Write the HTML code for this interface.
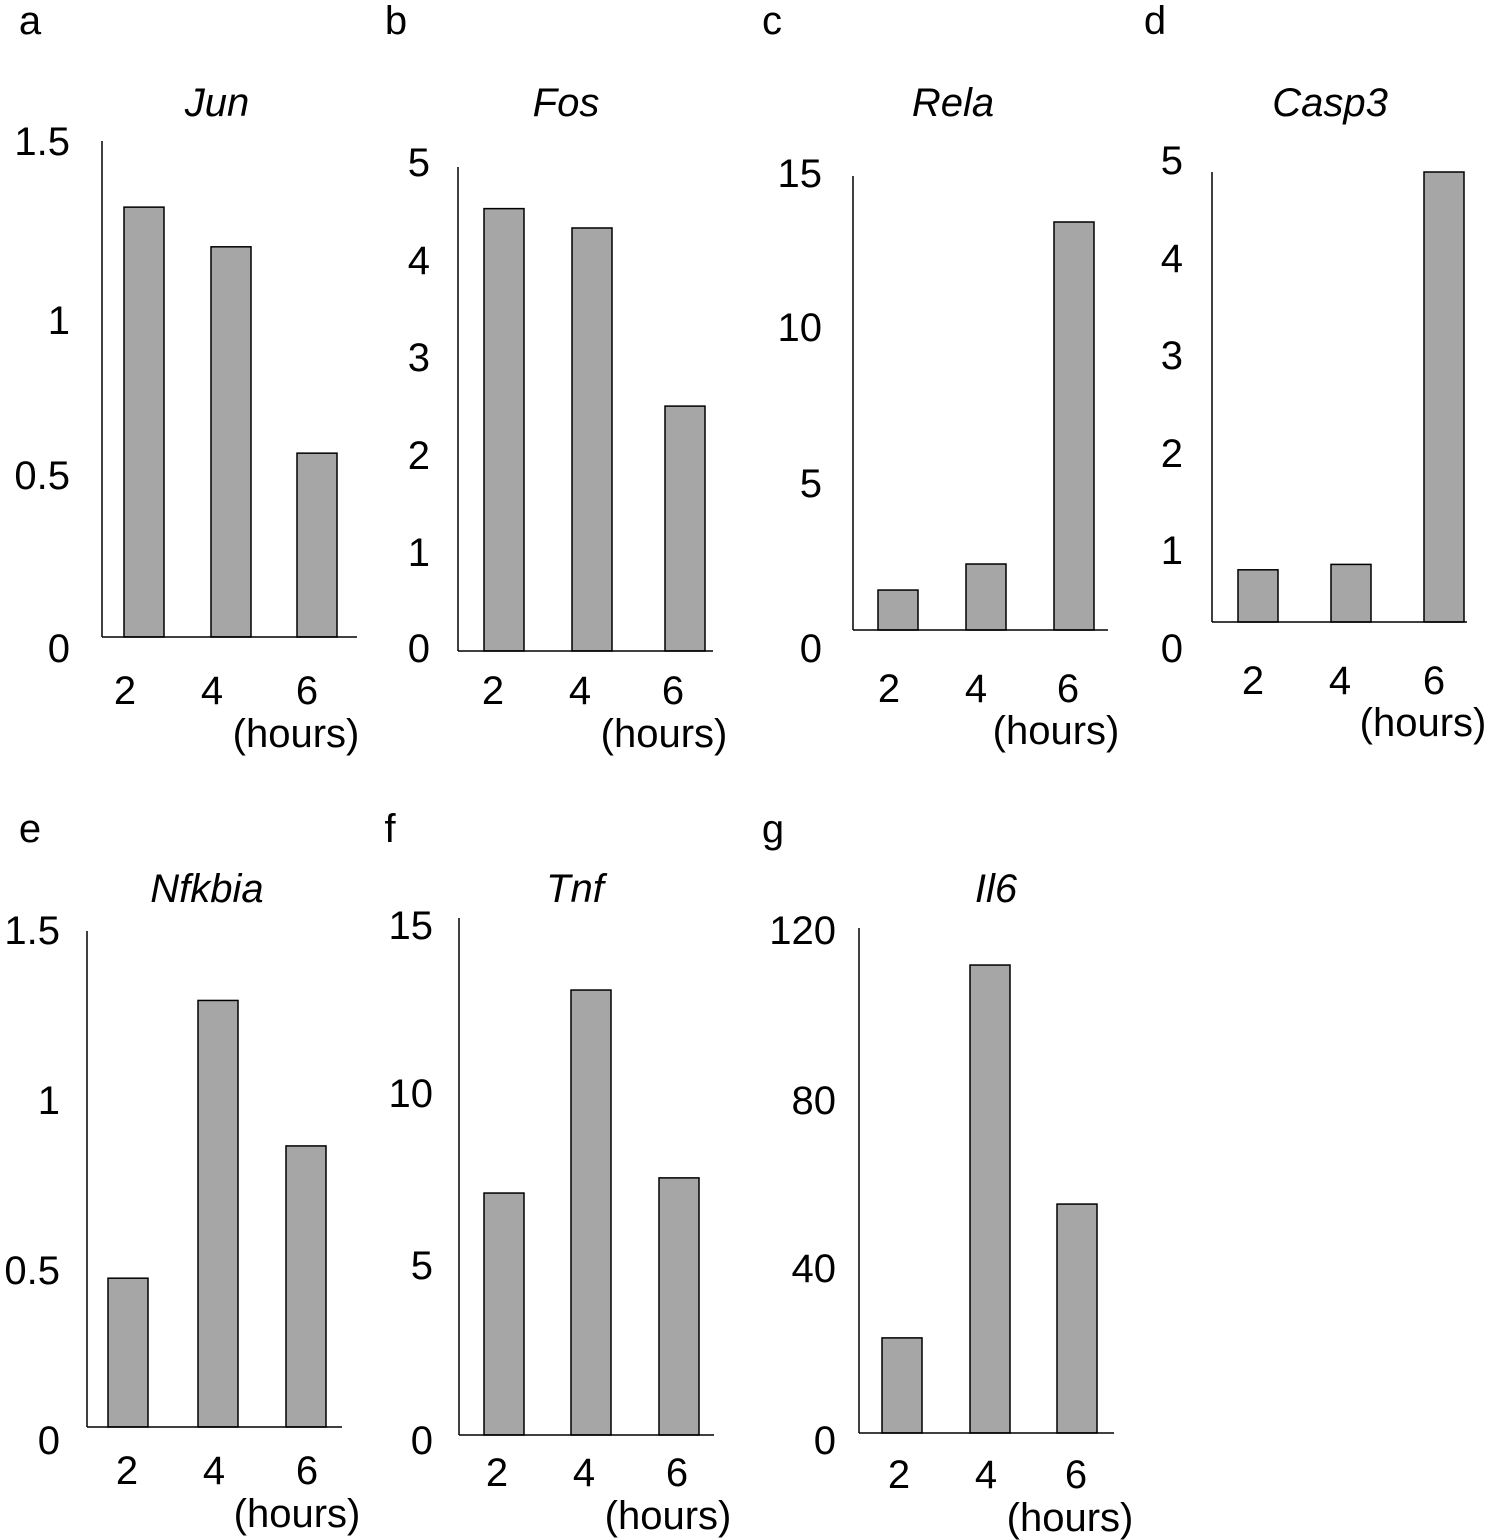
<!DOCTYPE html>
<html><head><meta charset="utf-8">
<style>
body{margin:0;background:#fff;}
svg{display:block;font-family:"Liberation Sans",Arial,sans-serif;}
</style></head>
<body>
<svg id="fig" width="1495" height="1540" viewBox="0 0 1495 1540"></svg>
<script>
// ---- data ----
const categories = ["2","4","6"];
const panelLetters = ["a","b","c","d","e","f","g"];
const geneNames = ["Jun","Fos","Rela","Casp3","Nfkbia","Tnf","Il6"];
const valuesJun = [1.30, 1.18, 0.556];
const valuesFos = [4.57, 4.37, 2.53];
const valuesRela = [1.32, 2.18, 13.48];
const valuesCasp3 = [0.58, 0.64, 5.0];
const valuesNfkbia = [0.45, 1.29, 0.85];
const valuesTnf = [7.02, 12.91, 7.46];
const valuesIl6 = [22.6, 111.2, 54.4];
const ticksJun = ["0","0.5","1","1.5"];
const ticksFos = ["0","1","2","3","4","5"];
const ticksRela = ["0","5","10","15"];
const ticksCasp3 = ["0","1","2","3","4","5"];
const ticksNfkbia = ["0","0.5","1","1.5"];
const ticksTnf = ["0","5","10","15"];
const ticksIl6 = ["0","40","80","120"];
const yMaxes = [1.5, 5, 15, 5, 1.5, 15, 120];

// ---- layout (pixel geometry) ----
const layout = [
 {ax:102, top:141, base:637, bx:[124,211,297], tx:70, lx:[30,20], title:[217,102], xl:[125,212,307], xly:690, hx:296, hy:733, ty:[648,475,320,141]},
 {ax:458, top:167, base:651, bx:[484,572,665], tx:430, lx:[396,20], title:[566,102], xl:[493,580,673], xly:690, hx:664, hy:733, ty:[648,552,455,357,260,162]},
 {ax:853, top:176, base:630, bx:[878,966,1054], tx:822, lx:[772,20], title:[953,102], xl:[889,976,1068], xly:688, hx:1056, hy:730, ty:[648,483,327,173]},
 {ax:1212, top:172, base:622, bx:[1238,1331,1424], tx:1183, lx:[1155,20], title:[1330,102], xl:[1253,1340,1434], xly:680, hx:1423, hy:722, ty:[648,550,453,355,258,160]},
 {ax:87, top:931, base:1427, bx:[108,198,286], tx:60, lx:[30,828], title:[207,888], xl:[127,214,307], xly:1470, hx:297, hy:1513, ty:[1440,1270,1100,930]},
 {ax:459, top:918, base:1435, bx:[484,571,659], tx:433, lx:[390,828], title:[575,888], xl:[497,584,677], xly:1472, hx:668, hy:1515, ty:[1440,1265,1093,925]},
 {ax:859, top:928, base:1433, bx:[882,970,1057], tx:836, lx:[773,828], title:[996,888], xl:[899,986,1076], xly:1474, hx:1070, hy:1517, ty:[1440,1268,1100,930]}
];
const allValues=[valuesJun,valuesFos,valuesRela,valuesCasp3,valuesNfkbia,valuesTnf,valuesIl6];
const allTicks=[ticksJun,ticksFos,ticksRela,ticksCasp3,ticksNfkbia,ticksTnf,ticksIl6];

const NS="http://www.w3.org/2000/svg";
const svg=document.getElementById('fig');
function mk(tag,attrs,parent){const e=document.createElementNS(NS,tag);for(const k in attrs)e.setAttribute(k,attrs[k]);(parent||svg).appendChild(e);return e;}

layout.forEach((L,p)=>{
  const g=mk('g',{});
  
  
  const y=v=>L.base-(v/yMaxes[p])*(L.base-L.top);
  const letter=mk('text',{x:L.lx[0],y:L.lx[1]+14,'font-size':40,fill:'#000','text-anchor':'middle'},g);
  letter.textContent=panelLetters[p];
  
  
  const t=mk('text',{x:L.title[0],y:L.title[1]+14,'font-size':40,'font-style':'italic',fill:'#000','text-anchor':'middle'},g);
  t.textContent=geneNames[p];
  
  
  allValues[p].forEach((v,i)=>{
    const top=Math.max(y(v),L.top);
    const r=mk('rect',{x:L.bx[i],y:top,width:40,height:L.base-top,fill:'#a6a6a6',stroke:'#000','stroke-width':1.5},g);
    
    
  });
  const ya=mk('line',{x1:L.ax,y1:L.top,x2:L.ax,y2:L.base,stroke:'#000','stroke-width':1.5},g);
  
  
  const xa=mk('line',{x1:L.ax,y1:L.base,x2:L.ax+255,y2:L.base,stroke:'#000','stroke-width':1.5},g);
  
  
  allTicks[p].forEach((lab,i)=>{
    const tt=mk('text',{x:L.tx,y:L.ty[i]+14,'font-size':40,fill:'#000','text-anchor':'end'},g);
    tt.textContent=lab;
    
    
  });
  categories.forEach((c,i)=>{
    const xt=mk('text',{x:L.xl[i],y:L.xly+14,'font-size':40,fill:'#000','text-anchor':'middle'},g);
    xt.textContent=c;
    
    
  });
  const h=mk('text',{x:L.hx,y:L.hy+14,'font-size':40,fill:'#000','text-anchor':'middle'},g);
  h.textContent='(hours)';
  
  
});
</script>
</body></html>
